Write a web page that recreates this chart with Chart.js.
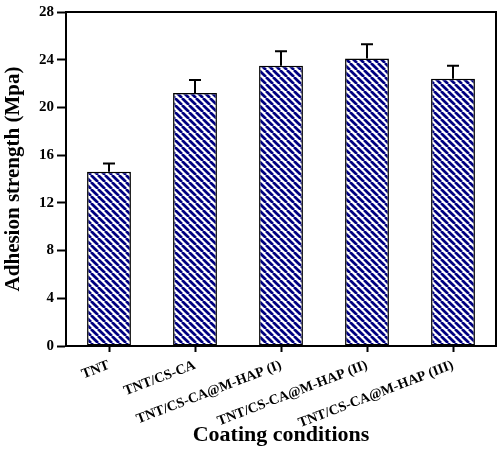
<!DOCTYPE html>
<html lang="en">
<head>
    <meta charset="UTF-8">
    <title>Adhesion strength</title>
    <script src="https://cdn.jsdelivr.net/npm/chart.js"></script>
    <style>
        html, body { margin: 0; padding: 0; background: #fff; }
        #wrap { width: 497px; height: 452px; }
    </style>
</head>
<body>
    <div id="wrap"><canvas id="adhesionChart"></canvas></div>

    <script>
        const categories = ['TNT', 'TNT/CS-CA', 'TNT/CS-CA@M-HAP (I)', 'TNT/CS-CA@M-HAP (II)', 'TNT/CS-CA@M-HAP (III)'];
        const strength = [14.6, 21.2, 23.5, 24.1, 22.4];
        const strengthErr = [0.7, 1.1, 1.2, 1.2, 1.1];
        const yTicks = [0, 4, 8, 12, 16, 20, 24, 28];

        const serif = '"Liberation Serif", "Times New Roman", serif';

        // navy / white diagonal hatch
        function makeHatch() {
            const s = 7;
            const c = document.createElement('canvas');
            c.width = s; c.height = s;
            const g = c.getContext('2d');
            g.fillStyle = '#fff';
            g.fillRect(0, 0, s, s);
            g.strokeStyle = '#000080';
            g.lineWidth = 2.7;
            [-s, 0, s].forEach(k => {
                g.beginPath();
                g.moveTo(k, 0);
                g.lineTo(k + s, s);
                g.stroke();
            });
            return g.createPattern(c, 'repeat');
        }

        const errorBars = {
            id: 'errorBars',
            afterDatasetsDraw(chart) {
                const ctx = chart.ctx;
                const y = chart.scales.y;
                const meta = chart.getDatasetMeta(0);
                ctx.save();
                ctx.strokeStyle = '#000';
                ctx.lineWidth = 2;
                meta.data.forEach((bar, i) => {
                    const top = y.getPixelForValue(strength[i] + strengthErr[i]);
                    ctx.beginPath();
                    ctx.moveTo(bar.x, bar.y);
                    ctx.lineTo(bar.x, top);
                    ctx.moveTo(bar.x - 6, top);
                    ctx.lineTo(bar.x + 6, top);
                    ctx.stroke();
                });
                ctx.restore();
            }
        };

        const frame = {
            id: 'frame',
            afterDraw(chart) {
                const a = chart.chartArea;
                const ctx = chart.ctx;
                ctx.save();
                ctx.strokeStyle = '#000';
                ctx.lineWidth = 2;
                ctx.beginPath();
                ctx.moveTo(a.left, a.top);
                ctx.lineTo(a.right, a.top);
                ctx.lineTo(a.right, a.bottom);
                ctx.stroke();
                ctx.restore();
            }
        };

        new Chart(document.getElementById('adhesionChart'), {
            type: 'bar',
            data: {
                labels: categories,
                datasets: [{
                    data: strength,
                    backgroundColor: makeHatch(),
                    borderColor: '#000',
                    borderWidth: 1.5,
                    borderSkipped: false,
                    categoryPercentage: 1,
                    barPercentage: 0.51
                }]
            },
            options: {
                responsive: true,
                maintainAspectRatio: false,
                animation: false,
                layout: { padding: { top: 1, right: 1, left: 0, bottom: 0 } },
                plugins: {
                    legend: { display: false },
                    tooltip: { enabled: false }
                },
                scales: {
                    x: {
                        afterFit(axis) { axis.height = 106; },
                        border: { color: '#000', width: 2 },
                        grid: { display: true, drawOnChartArea: false, drawTicks: true, tickLength: 6, tickColor: '#000', tickWidth: 2, offset: false },
                        ticks: {
                            color: '#000',
                            font: { family: serif, weight: 'bold', size: 14 },
                            minRotation: 21,
                            maxRotation: 21,
                            autoSkip: false,
                            padding: 5
                        },
                        title: {
                            display: true,
                            text: 'Coating conditions',
                            color: '#000',
                            font: { family: serif, weight: 'bold', size: 22 },
                            padding: { top: 0, bottom: 3 }
                        }
                    },
                    y: {
                        min: 0,
                        max: 28,
                        afterBuildTicks(axis) { axis.ticks = yTicks.map(v => ({ value: v })); },
                        afterFit(axis) { axis.width = 66; },
                        border: { color: '#000', width: 2 },
                        grid: { display: true, drawOnChartArea: false, drawTicks: true, tickLength: 9, tickColor: '#000', tickWidth: 2 },
                        ticks: {
                            color: '#000',
                            font: { family: serif, weight: 'bold', size: 15 },
                            padding: 3
                        },
                        title: {
                            display: true,
                            text: 'Adhesion strength (Mpa)',
                            color: '#000',
                            font: { family: serif, weight: 'bold', size: 21 },
                            padding: { top: 1, bottom: 0 }
                        }
                    }
                }
            },
            plugins: [errorBars, frame]
        });
    </script>
</body>
</html>
